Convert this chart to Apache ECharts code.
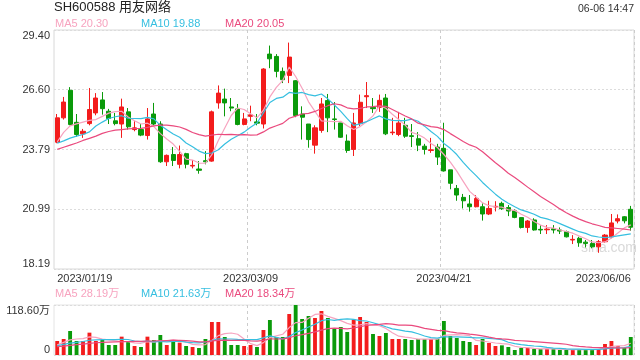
<!DOCTYPE html>
<html><head><meta charset="utf-8">
<script src="https://cdn.jsdelivr.net/npm/echarts@6/dist/echarts.min.js"></script>
<style>html,body{margin:0;padding:0;background:#fff;}#c{width:640px;height:360px;}</style>
</head><body><div id="c"></div>
<script>
const dates = ['2023/01/19','2023/01/20','2023/01/30','2023/01/31','2023/02/01','2023/02/02','2023/02/03','2023/02/06','2023/02/07','2023/02/08','2023/02/09','2023/02/10','2023/02/13','2023/02/14','2023/02/15','2023/02/16','2023/02/17','2023/02/20','2023/02/21','2023/02/22','2023/02/23','2023/02/24','2023/02/27','2023/02/28','2023/03/01','2023/03/02','2023/03/03','2023/03/06','2023/03/07','2023/03/08','2023/03/09','2023/03/10','2023/03/13','2023/03/14','2023/03/15','2023/03/16','2023/03/17','2023/03/20','2023/03/21','2023/03/22','2023/03/23','2023/03/24','2023/03/27','2023/03/28','2023/03/29','2023/03/30','2023/03/31','2023/04/03','2023/04/04','2023/04/06','2023/04/07','2023/04/10','2023/04/11','2023/04/12','2023/04/13','2023/04/14','2023/04/17','2023/04/18','2023/04/19','2023/04/20','2023/04/21','2023/04/24','2023/04/25','2023/04/26','2023/04/27','2023/04/28','2023/05/04','2023/05/05','2023/05/08','2023/05/09','2023/05/10','2023/05/11','2023/05/12','2023/05/15','2023/05/16','2023/05/17','2023/05/18','2023/05/19','2023/05/22','2023/05/23','2023/05/24','2023/05/25','2023/05/26','2023/05/29','2023/05/30','2023/05/31','2023/06/01','2023/06/02','2023/06/05','2023/06/06'];
const opens = [24.14,25.28,26.57,25.07,24.53,25.01,25.51,26.12,25.59,25.14,24.99,25.56,24.73,24.73,24.45,25.46,24.99,23.22,23.56,23.10,23.60,23.02,22.88,23.27,23.25,25.98,26.16,25.79,25.70,24.97,25.35,25.09,24.99,28.27,28.16,27.46,27.27,27.02,25.46,24.99,24.00,24.69,26.09,25.23,25.04,24.19,23.80,25.01,26.27,25.77,25.77,26.21,24.58,24.50,24.93,24.44,24.30,23.95,23.75,23.91,23.85,22.84,21.97,21.55,21.24,21.11,21.11,20.77,21.10,21.27,21.07,20.92,20.60,20.14,20.49,20.05,20.03,20.08,20.02,19.94,19.55,19.63,19.45,19.39,19.23,19.47,19.70,20.44,20.64,20.99];
const closes = [25.28,26.02,24.97,24.50,24.65,25.67,26.21,25.71,25.25,25.01,25.79,24.86,24.81,24.47,25.23,24.99,23.22,23.52,23.28,23.56,23.10,23.05,22.82,23.22,25.56,26.44,25.98,25.74,24.97,25.23,25.42,25.03,27.57,28.05,27.46,27.07,28.13,25.39,25.31,24.26,24.81,25.93,25.28,25.20,24.37,23.75,25.04,26.01,26.32,25.71,26.10,24.53,24.61,25.04,24.42,24.41,24.00,23.80,23.78,23.44,22.79,22.21,21.66,21.39,21.11,21.50,20.77,21.03,21.13,21.02,20.91,20.61,20.14,20.44,20.02,20.02,20.06,20.02,19.97,19.70,19.58,19.42,19.39,19.23,19.47,19.78,20.35,20.55,20.45,20.15];
const lows = [24.09,25.20,24.93,24.39,24.34,24.93,25.40,25.43,24.99,24.93,24.34,24.73,24.65,24.42,24.26,24.93,23.17,23.02,23.02,22.91,22.91,22.91,22.66,23.10,23.22,25.71,25.35,25.59,24.93,24.93,25.12,24.93,24.78,27.61,27.18,26.91,26.91,25.31,24.26,23.88,23.60,24.58,24.61,24.73,24.34,23.64,23.49,24.89,25.74,25.51,25.56,24.47,24.47,24.42,24.34,23.91,23.72,23.56,23.64,23.07,22.76,21.93,21.39,21.03,20.88,21.08,20.46,20.72,20.89,20.96,20.67,20.57,20.09,19.89,19.99,19.83,19.83,19.86,19.83,19.67,19.36,19.23,19.20,19.16,18.95,19.42,19.63,20.33,20.33,19.99];
const highs = [25.46,26.26,26.72,25.46,24.76,26.68,26.44,26.49,25.70,25.51,26.18,25.74,25.12,24.99,25.74,25.98,25.12,23.56,23.91,23.98,23.64,23.30,23.25,23.72,25.62,26.80,26.65,26.21,25.93,25.51,25.85,25.46,27.61,28.67,28.27,27.64,28.81,27.05,25.82,24.99,24.93,26.21,26.40,26.02,25.04,24.50,25.51,26.37,26.96,26.21,26.37,26.40,25.28,25.56,25.28,24.99,24.61,24.06,24.34,24.06,25.05,22.84,22.13,21.71,21.66,21.66,21.27,21.39,21.37,21.35,21.19,20.99,20.60,20.49,20.57,20.25,20.25,20.25,20.14,19.99,19.78,19.70,19.55,19.55,19.55,19.83,20.77,20.75,20.67,21.15];
const ma5 = [24.15,24.60,24.90,25.00,25.08,25.16,25.20,25.35,25.50,25.57,25.59,25.32,25.14,24.99,25.03,24.87,24.54,24.29,24.05,23.71,23.34,23.30,23.16,23.15,23.55,24.22,24.80,25.39,25.74,25.67,25.47,25.28,25.64,26.26,26.71,27.04,27.66,27.22,26.67,26.03,25.58,25.14,25.12,25.10,25.12,24.91,24.73,24.87,25.10,25.37,25.84,25.73,25.45,25.20,24.94,24.60,24.50,24.33,24.08,23.89,23.56,23.20,22.78,22.30,21.83,21.57,21.29,21.16,21.11,21.09,20.97,20.94,20.76,20.62,20.42,20.25,20.14,20.11,20.02,19.95,19.87,19.74,19.61,19.46,19.42,19.46,19.64,19.88,20.12,20.26];
const ma10 = [24.09,24.20,24.33,24.42,24.50,24.62,24.90,25.08,25.25,25.33,25.38,25.26,25.25,25.24,25.30,25.23,24.93,24.72,24.52,24.37,24.10,23.92,23.72,23.60,23.63,23.78,24.05,24.28,24.44,24.61,24.84,25.04,25.52,26.00,26.19,26.25,26.47,26.43,26.47,26.37,26.31,26.40,26.17,25.88,25.58,25.24,24.93,25.00,25.10,25.24,25.37,25.23,25.16,25.15,25.15,25.22,25.12,24.89,24.64,24.41,24.08,23.85,23.56,23.19,22.86,22.57,22.25,21.97,21.70,21.46,21.27,21.11,20.96,20.87,20.76,20.61,20.54,20.44,20.32,20.19,20.06,19.94,19.86,19.74,19.69,19.66,19.69,19.74,19.79,19.84];
const ma20 = [23.80,23.90,24.00,24.10,24.22,24.32,24.42,24.55,24.64,24.70,24.73,24.76,24.78,24.79,24.83,24.90,24.94,24.94,24.90,24.85,24.74,24.59,24.49,24.42,24.47,24.51,24.49,24.50,24.48,24.49,24.47,24.48,24.62,24.80,24.91,25.02,25.26,25.36,25.46,25.49,25.58,25.72,25.85,25.94,25.89,25.75,25.70,25.72,25.79,25.81,25.84,25.82,25.67,25.52,25.37,25.23,25.03,24.95,24.87,24.83,24.73,24.54,24.36,24.17,24.01,23.90,23.69,23.43,23.17,22.94,22.68,22.48,22.26,22.03,21.81,21.59,21.40,21.21,21.01,20.83,20.67,20.53,20.41,20.31,20.23,20.14,20.12,20.09,20.06,20.02];
const volumes = [33.2,38.0,56.9,33.2,33.2,53.0,33.2,35.6,23.7,23.7,43.5,31.6,21.3,19.0,43.5,35.6,47.4,23.7,33.2,29.3,21.3,19.0,16.6,38.0,78.3,78.3,42.7,23.7,23.7,21.3,23.7,19.0,59.3,83.0,42.7,42.7,97.2,118.6,85.4,92.5,87.8,104.4,87.8,61.7,66.4,54.6,83.8,90.1,78.3,49.8,45.1,52.2,38.0,38.0,38.0,35.6,38.0,38.0,38.0,38.0,80.6,45.1,40.3,33.2,30.8,23.7,38.0,28.5,21.3,22.9,19.0,11.9,16.6,16.6,14.2,14.2,14.2,14.2,11.9,11.9,11.9,14.2,11.9,14.2,14.2,26.1,33.2,21.3,16.6,42.7];
const volMa5 = [24,30,36,38,38.9,42.9,41.9,37.6,35.7,33.8,31.9,31.6,28.8,27.8,31.8,30.2,33.4,33.8,36.7,33.8,31.0,25.3,23.9,24.8,34.6,46.0,50.8,52.2,49.3,37.9,27.0,22.3,29.4,41.3,45.5,49.3,65.0,76.8,77.3,87.3,96.3,97.7,91.6,86.8,81.6,75.0,70.9,71.3,74.6,71.3,69.4,63.1,52.7,44.6,42.3,40.4,37.5,37.5,37.5,37.5,46.5,47.9,48.4,47.4,46.0,34.6,33.2,30.8,28.5,26.9,25.9,20.7,18.3,17.4,15.7,14.7,15.2,14.7,13.7,13.3,12.8,12.8,12.4,12.8,13.3,16.1,19.9,21.8,22.3,28.0];
const volMa10 = [22,25,28,30,32,35,36,36.5,36.5,36.4,37.4,36.8,33.2,31.8,32.8,31.1,32.5,31.3,32.3,32.8,30.6,29.3,28.9,30.8,34.2,38.5,38.0,38.0,37.1,36.3,36.5,36.5,40.8,45.3,41.7,38.2,43.6,53.1,59.3,66.4,72.8,81.4,84.2,82.1,84.5,85.6,84.3,81.5,80.7,76.5,72.2,67.0,62.0,59.6,56.8,54.9,50.3,45.1,41.1,39.9,43.4,42.7,43.0,42.5,41.8,40.6,40.6,39.6,38.0,36.4,30.3,27.0,24.6,22.9,21.3,20.3,17.9,16.5,15.6,14.5,13.8,14.0,13.5,13.3,13.3,14.5,16.4,17.1,17.6,20.6];
const volMa20 = [20,21,23,24.5,26,27.5,29,30,30.5,31,31.5,32,32.3,32.5,33,33.3,33.8,34.2,34.5,34.6,34.0,33.1,31.1,31.3,33.5,34.8,35.3,34.7,34.7,34.6,33.6,32.9,34.9,38.1,38.0,38.4,40.8,45.6,48.2,51.4,54.7,59.0,62.5,63.7,63.1,61.9,64.0,67.3,70.0,71.5,72.5,74.2,73.1,70.9,70.7,70.3,67.3,63.3,60.9,58.2,57.8,54.9,52.5,51.1,49.3,47.8,45.5,42.4,39.6,38.2,36.9,34.9,33.8,32.7,31.6,30.5,29.3,28.1,26.8,25.5,22.1,20.5,19.1,18.1,17.3,17.4,17.2,16.8,16.6,17.6];
const priceTicks = [18.19, 20.99, 23.79, 26.60, 29.40];
const volTicks = [0, 118.60];
const xLabelIdx = [0, 30, 60, 89];
const xSplitIdx = [30, 60];
const titleText = 'SH600588 用友网络';
const timeText = '06-06 14:47';
const priceLegend = ['MA5 20.30', 'MA10 19.88', 'MA20 20.05'];
const volLegend = ['MA5 28.19万', 'MA10 21.63万', 'MA20 18.34万'];

const UP = '#f31c1c', DOWN = '#0a9a0a';
const C5 = '#f7a3bf', C10 = '#36bfe0', C20 = '#ea4a7e';
const FONT = '"Liberation Sans", Arial, "Noto Sans CJK SC", sans-serif';

const chart = echarts.init(document.getElementById('c'), null, {renderer: 'canvas'});
const lineS = (name, data, color, xi, yi) => ({
  name, type: 'line', data, xAxisIndex: xi, yAxisIndex: yi, showSymbol: false, symbol: 'none',
  lineStyle: {color, width: 1.2}, itemStyle: {color}, silent: true, z: 3
});
const legendX = [55, 141, 225];
const legendCol = [C5, C10, C20];
const graphics = [];
priceLegend.forEach((t, i) => graphics.push({type: 'text', left: legendX[i], top: 18, style: {text: t, fill: legendCol[i], font: '11px ' + FONT}}));
volLegend.forEach((t, i) => graphics.push({type: 'text', left: legendX[i], top: 288, style: {text: t, fill: legendCol[i], font: '11px ' + FONT}}));
graphics.push({type: 'text', left: 54, top: 1, style: {text: titleText, fill: '#222', font: '13px ' + FONT}});
graphics.push({type: 'text', right: 6, top: 4, style: {text: timeText, fill: '#333', font: '10.5px ' + FONT}});
graphics.push({type: 'text', left: 581, top: 241, style: {text: 'sina.com', fill: 'rgba(170,170,170,0.45)', font: '14px ' + FONT}});

const xAx = (gi, showLabel) => ({
  type: 'category', data: dates, gridIndex: gi, boundaryGap: true,
  axisLine: {show: false}, axisTick: {show: false},
  axisLabel: {show: showLabel, interval: (i) => xLabelIdx.includes(i), fontSize: 11, color: '#333', margin: 4,
    fontFamily: FONT, alignMinLabel: 'left', alignMaxLabel: 'right'},
  splitLine: {show: true, interval: (i) => xSplitIdx.includes(i), lineStyle: {color: '#ccc', type: [3, 3], width: 1}}
});

chart.setOption({
  animation: false,
  backgroundColor: '#fff',
  textStyle: {fontFamily: FONT},
  graphic: graphics,
  grid: [
    {left: 54, right: 6, top: 30, height: 239, show: true, borderColor: '#d8d8d8', borderWidth: 1},
    {left: 54, right: 6, top: 305, height: 50, show: true, borderColor: '#e4e4e4', borderWidth: 1}
  ],
  xAxis: [xAx(0, true), xAx(1, false)],
  yAxis: [
    {type: 'value', gridIndex: 0, min: priceTicks[0], max: priceTicks[priceTicks.length - 1],
     axisLine: {show: false}, axisTick: {show: false, customValues: priceTicks},
     axisLabel: {customValues: priceTicks, formatter: (v) => v.toFixed(2), fontSize: 11, color: '#333', margin: 4,
       fontFamily: FONT, verticalAlignMinLabel: 'bottom', verticalAlignMaxLabel: 'top'},
     splitLine: {show: true, lineStyle: {color: '#dcdcdc', type: [2, 2]}}},
    {type: 'value', gridIndex: 1, min: volTicks[0], max: volTicks[1],
     axisLine: {show: false}, axisTick: {show: false, customValues: volTicks},
     axisLabel: {customValues: volTicks, formatter: (v) => v === 0 ? '0' : v.toFixed(2) + '万', fontSize: 11, color: '#333', margin: 4,
       fontFamily: FONT, verticalAlignMinLabel: 'bottom', verticalAlignMaxLabel: 'top'},
     splitLine: {show: true, lineStyle: {color: '#dcdcdc', type: [2, 2]}}}
  ],
  series: [
    {type: 'candlestick', xAxisIndex: 0, yAxisIndex: 0, barWidth: '72%',
     data: dates.map((d, i) => [opens[i], closes[i], lows[i], highs[i]]),
     itemStyle: {color: UP, color0: DOWN, borderColor: UP, borderColor0: DOWN, borderWidth: 1}, z: 2},
    lineS('MA5', ma5, C5, 0, 0),
    lineS('MA10', ma10, C10, 0, 0),
    lineS('MA20', ma20, C20, 0, 0),
    {type: 'bar', xAxisIndex: 1, yAxisIndex: 1, barWidth: '60%',
     data: volumes.map((v, i) => ({value: v, itemStyle: {color: closes[i] >= opens[i] ? UP : DOWN}}))},
    lineS('VMA5', volMa5, C5, 1, 1),
    lineS('VMA10', volMa10, C10, 1, 1),
    lineS('VMA20', volMa20, C20, 1, 1)
  ]
});
</script></body></html>
